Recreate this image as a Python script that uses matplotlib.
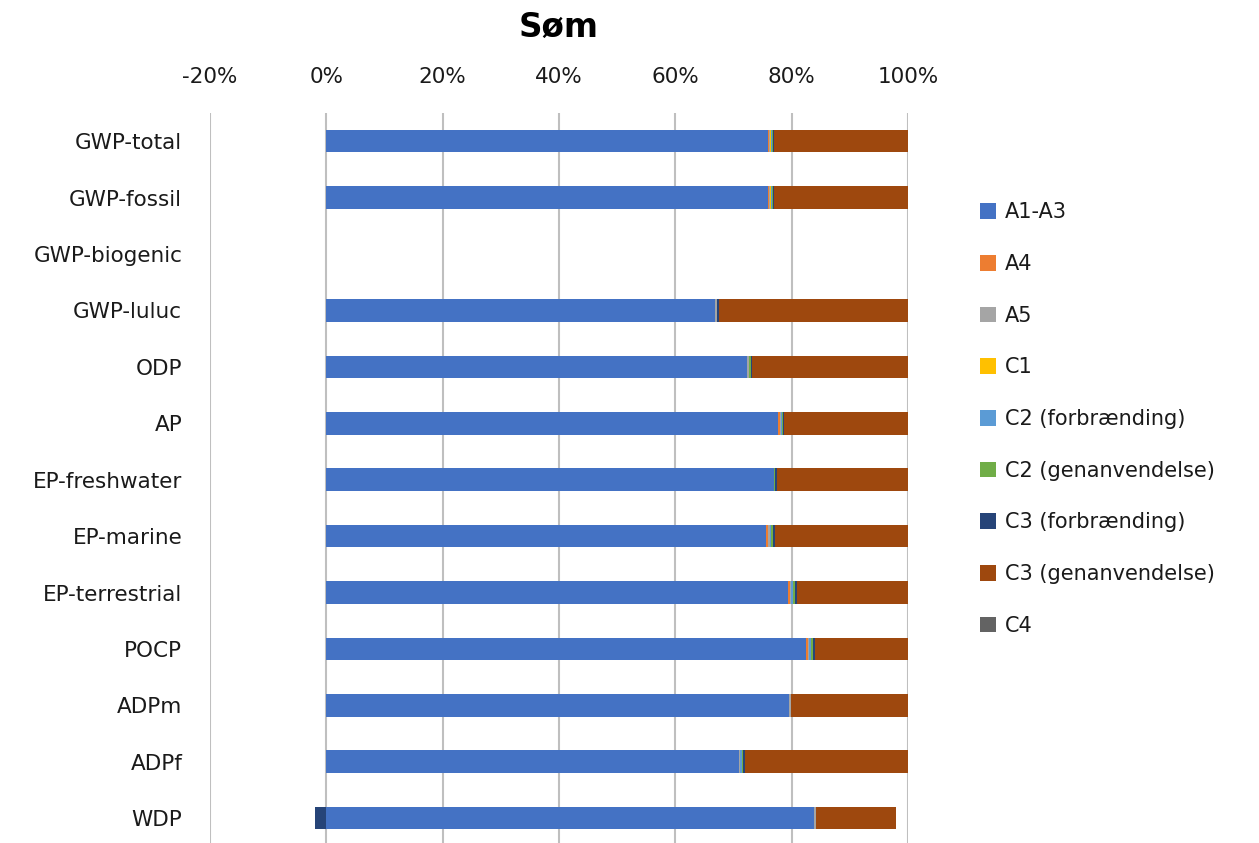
import numpy as np
import matplotlib.pyplot as plt

plt.rcParams['font.family'] = ['DejaVu Sans']

categories = ['GWP-total', 'GWP-fossil', 'GWP-biogenic', 'GWP-luluc', 'ODP', 'AP',
              'EP-freshwater', 'EP-marine', 'EP-terrestrial', 'POCP', 'ADPm', 'ADPf', 'WDP']

series = ['A1-A3', 'A4', 'A5', 'C1', 'C2 (forbrænding)', 'C2 (genanvendelse)',
          'C3 (forbrænding)', 'C3 (genanvendelse)', 'C4']

colors = ['#4472C4', '#ED7D31', '#A5A5A5', '#FFC000', '#5B9BD5', '#70AD47',
          '#264478', '#9E480E', '#636363']

# shares in percent, one list per module (order follows categories)
a1_a3 = [76.0, 76.0, 0, 66.9, 72.3, 77.7, 77.0, 75.6, 79.3, 82.5, 79.6, 70.9, 83.9]
a4    = [0.15, 0.15, 0, 0.0, 0.0, 0.3, 0.0, 0.3, 0.4, 0.3, 0.0, 0.0, 0.0]
a5    = [0.2, 0.2, 0, 0.2, 0.3, 0.2, 0.0, 0.3, 0.2, 0.2, 0.3, 0.3, 0.3]
c1    = [0.05, 0.05, 0, 0, 0, 0, 0, 0, 0, 0, 0, 0, 0]
c2_f  = [0.2, 0.2, 0, 0.0, 0.1, 0.1, 0.0, 0.2, 0.3, 0.3, 0.0, 0.2, 0.0]
c2_g  = [0.25, 0.25, 0, 0.1, 0.3, 0.2, 0.1, 0.4, 0.4, 0.3, 0.0, 0.3, 0.0]
c3_f  = [0.15, 0.15, 0, 0.3, 0.2, 0.2, 0.4, 0.4, 0.4, 0.4, 0.0, 0.2, -2.0]
c3_g  = [23.0, 23.0, 0, 32.5, 26.8, 21.3, 22.5, 22.8, 19.0, 16.0, 20.1, 28.1, 13.7]
c4    = [0, 0, 0, 0, 0, 0, 0, 0, 0, 0, 0, 0, 0]

data = [a1_a3, a4, a5, c1, c2_f, c2_g, c3_f, c3_g, c4]

fig = plt.figure(figsize=(12.59, 8.43), dpi=100)
ax = fig.add_axes([210/1259, 0, 698/1259, 730/843])

y = np.arange(len(categories))
pos = np.zeros(len(categories))
neg = np.zeros(len(categories))
for vals, name, col in zip(data, series, colors):
    v = np.array(vals) / 100
    left = np.where(v >= 0, pos, neg)
    ax.barh(y, v, left=left, height=0.4, color=col, label=name, zorder=3)
    pos = pos + np.where(v >= 0, v, 0)
    neg = neg + np.where(v < 0, v, 0)

ax.set_xlim(-0.2, 1.0)
ax.set_ylim(12.44, -0.5)
ax.set_xticks(np.arange(-0.2, 1.01, 0.2))
ax.set_xticklabels(['-20%', '0%', '20%', '40%', '60%', '80%', '100%'])
ax.xaxis.tick_top()
ax.set_yticks(y)
ax.set_yticklabels(categories)
ax.tick_params(axis='x', length=0, pad=19, labelsize=15.5, colors='#1a1a1a')
ax.tick_params(axis='y', length=0, pad=20, labelsize=15.5, colors='#1a1a1a')
ax.grid(axis='x', color='#BFBFBF', linewidth=1.5, zorder=0)
for s in ax.spines.values():
    s.set_visible(False)

fig.text(559/1259, 1 - 27/843, 'Søm', ha='center', va='center',
         fontsize=23.5, fontweight='bold')

fig.legend(loc='upper left', bbox_to_anchor=(970/1259, 1 - 192/843), frameon=False,
           fontsize=15, handlelength=0.77, handleheight=0.77, handletextpad=0.4,
           labelspacing=1.52, borderpad=0, labelcolor='#1a1a1a')

fig.savefig('out.png', dpi=100)
